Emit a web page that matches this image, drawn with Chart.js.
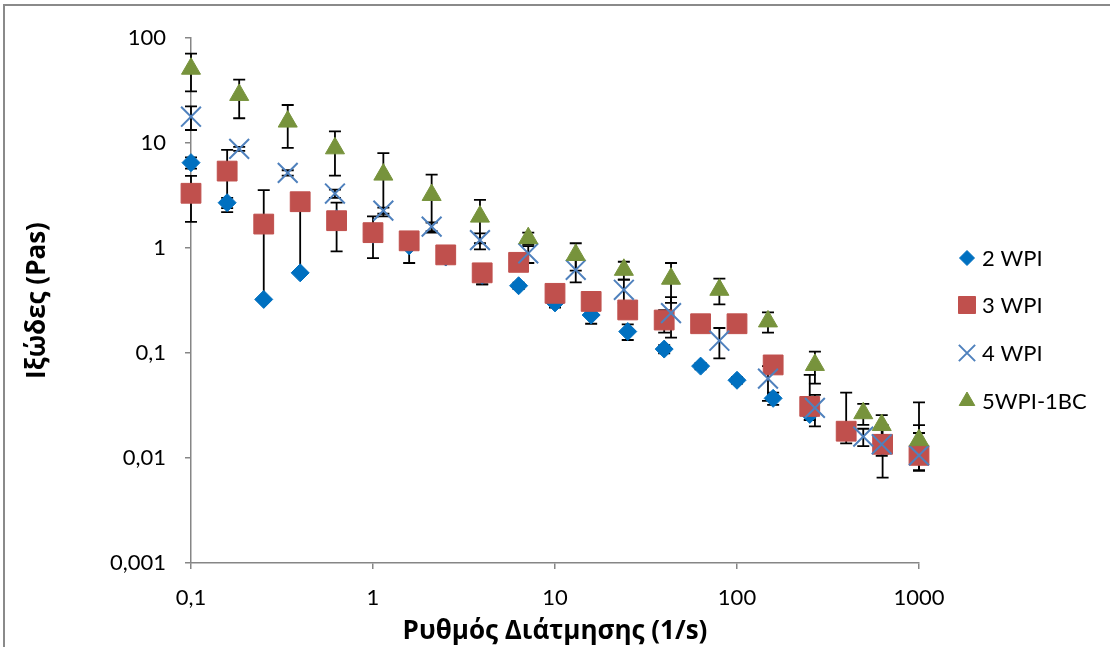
<!DOCTYPE html>
<html>
<head>
<meta charset="utf-8">
<script src="https://cdn.jsdelivr.net/npm/chart.js@4.4.1/dist/chart.umd.min.js"></script>
<style>
  html, body { margin: 0; padding: 0; background: #fff; overflow: hidden; }
  #frame { position: absolute; left: 3px; top: 4px; width: 1300px; height: 900px; border: 2px solid #8a8a8a; }
  #chart { position: absolute; left: 0; top: 0; }
</style>
</head>
<body>
<div id="frame"></div>
<canvas id="chart" width="1110" height="647"></canvas>
<script>
// shear rates (1/s)
const rateA = [0.1, 0.158, 0.251, 0.398, 0.631, 1, 1.58, 2.51, 3.98, 6.31, 10, 15.8, 25.1, 39.8, 63.1, 100, 158, 251, 398, 631, 1000];
const rateB = [0.1, 0.184, 0.34, 0.618, 1.14, 2.1, 3.87, 7.13, 13, 23.9, 43.4, 80, 148, 268, 494, 624, 1000];

// viscosity (Pas) and error bars
const wpi2 = [6.5, 2.7, 0.324, 0.58, 1.9, 1.35, 1.05, 0.82, 0.55, 0.437, 0.30, 0.23, 0.16, 0.109, 0.075, 0.055, 0.037, 0.026, 0.018, 0.013, 0.012];
const wpi2Up = [0.8, 0.3, 1.37, 2.2, 0.2, 0.1, 0.05, 0.05, 0.1, 0.03, 0.03, 0.04, 0.027, 0.01, 0.005, 0.004, 0.005, 0.003, 0.002, 0.002, 0.0086];
const wpi2Down = [0.8, 0.3, 0, 0, 0.2, 0.1, 0.05, 0.05, 0.1, 0.03, 0.03, 0.04, 0.027, 0.01, 0.005, 0.004, 0.005, 0.003, 0.002, 0.002, 0];

const wpi3 = [3.32, 5.4, 1.69, 2.76, 1.82, 1.40, 1.17, 0.86, 0.58, 0.73, 0.37, 0.31, 0.257, 0.206, 0.19, 0.19, 0.077, 0.031, 0.018, 0.0135, 0.0106];
const wpi3Up = [1.55, 3.2, 1.87, 0.3, 0.89, 0.6, 0.2, 0.05, 0.1, 0.05, 0.03, 0.02, 0.02, 0.05, 0.01, 0.01, 0.005, 0.031, 0.024, 0.007, 0.003];
const wpi3Down = [1.55, 3.2, 0, 0.3, 0.89, 0.6, 0.45, 0.05, 0.13, 0.05, 0.03, 0.02, 0.02, 0.05, 0.01, 0.01, 0.005, 0, 0.0042, 0.007, 0.003];

const wpi4 = [17.8, 8.8, 5.2, 3.3, 2.27, 1.6, 1.19, 0.89, 0.62, 0.40, 0.24, 0.131, 0.057, 0.030, 0.016, 0.0135, 0.0106];
const wpi4Up = [4.5, 0.4, 0.3, 0.3, 0.15, 0.15, 0.19, 0.15, 0.15, 0.1, 0.1, 0.042, 0.018, 0.01, 0.003, 0.003, 0.0067];
const wpi4Down = [4.5, 0.4, 0.3, 0.3, 0.15, 0.15, 0.22, 0.17, 0.15, 0.1, 0.1, 0.042, 0.022, 0.01, 0.003, 0.003, 0.003];

const wpi5bc = [51, 28.7, 16, 8.9, 5.0, 3.2, 1.99, 1.24, 0.86, 0.62, 0.51, 0.40, 0.20, 0.077, 0.0267, 0.0206, 0.0148];
const wpi5bcUp = [20, 11.5, 7, 4, 3, 1.8, 0.88, 0.16, 0.25, 0.12, 0.21, 0.11, 0.044, 0.026, 0.006, 0.005, 0.019];
const wpi5bcDown = [20, 11.5, 7, 4, 3, 1.8, 0.88, 0.16, 0.25, 0.12, 0.21, 0.11, 0.044, 0.026, 0.006, 0.005, 0];

const xTicks = [0.1, 1, 10, 100, 1000];
const yTicks = [0.001, 0.01, 0.1, 1, 10, 100];

const toPoints = (xs, ys) => ys.map((y, i) => ({ x: xs[i], y: y }));
const fmt = (v) => String(v).replace('.', ',');

// black vertical error bars, drawn under the markers
const errorBars = {
  id: 'errorBars',
  beforeDatasetsDraw(chart) {
    const ctx = chart.ctx;
    const yScale = chart.scales.y;
    const cap = 6;
    ctx.save();
    ctx.strokeStyle = '#000';
    ctx.lineWidth = 1.8;
    chart.data.datasets.forEach((ds, i) => {
      const meta = chart.getDatasetMeta(i);
      meta.data.forEach((pt, j) => {
        const v = ds.data[j].y;
        const up = ds.errUp[j];
        const down = ds.errDown[j];
        const hasDown = down > 0 && v - down > 0;
        const yTop = up > 0 ? yScale.getPixelForValue(v + up) : pt.y;
        const yBot = hasDown ? yScale.getPixelForValue(v - down) : pt.y;
        ctx.beginPath();
        ctx.moveTo(pt.x, yTop);
        ctx.lineTo(pt.x, yBot);
        if (up > 0) { ctx.moveTo(pt.x - cap, yTop); ctx.lineTo(pt.x + cap, yTop); }
        if (hasDown) { ctx.moveTo(pt.x - cap, yBot); ctx.lineTo(pt.x + cap, yBot); }
        ctx.stroke();
      });
    });
    ctx.restore();
  }
};

// legend on the right, Excel style
const sideLegend = {
  id: 'sideLegend',
  afterDraw(chart) {
    const ctx = chart.ctx;
    const rows = [258, 305, 353, 401];
    ctx.save();
    chart.data.datasets.forEach((ds, i) => {
      const y = rows[i];
      ctx.fillStyle = ds.backgroundColor;
      ctx.strokeStyle = ds.borderColor;
      ctx.lineWidth = ds.borderWidth;
      Chart.helpers.drawPoint(ctx, { pointStyle: ds.pointStyle, radius: ds.legendRadius, borderWidth: ds.borderWidth, rotation: 0 }, 967, y);
      ctx.fillStyle = '#000';
      ctx.font = '22px Lato, "Liberation Sans", sans-serif';
      ctx.textBaseline = 'middle';
      ctx.textAlign = 'left';
      ctx.fillText(ds.label, 982, y + 1);
    });
    ctx.restore();
  }
};

const tickFont = { family: 'Lato, "Liberation Sans", sans-serif', size: 22 };
const titleFont = { family: '"Open Sans", "Noto Sans", sans-serif', size: 26, weight: 'bold' };

new Chart(document.getElementById('chart'), {
  type: 'scatter',
  data: {
    datasets: [
      { label: '2 WPI', data: toPoints(rateA, wpi2), errUp: wpi2Up, errDown: wpi2Down,
        pointStyle: 'rectRot', pointRadius: 9, legendRadius: 7.5, borderWidth: 1, clip: false,
        backgroundColor: '#0070C0', borderColor: '#0070C0', order: 3 },
      { label: '3 WPI', data: toPoints(rateA, wpi3), errUp: wpi3Up, errDown: wpi3Down,
        pointStyle: 'rect', pointRadius: 14, legendRadius: 12, borderWidth: 1, clip: false,
        backgroundColor: '#C0504D', borderColor: '#C0504D', order: 2 },
      { label: '4 WPI', data: toPoints(rateB, wpi4), errUp: wpi4Up, errDown: wpi4Down,
        pointStyle: 'crossRot', pointRadius: 14, legendRadius: 11.5, borderWidth: 2, clip: false,
        backgroundColor: '#4F81BD', borderColor: '#4F81BD', order: 1 },
      { label: '5WPI-1BC', data: toPoints(rateB, wpi5bc), errUp: wpi5bcUp, errDown: wpi5bcDown,
        pointStyle: 'triangle', pointRadius: 11, legendRadius: 9, borderWidth: 1, clip: false,
        backgroundColor: '#77933C', borderColor: '#77933C', order: 0 }
    ]
  },
  options: {
    responsive: false,
    animation: false,
    layout: { padding: { left: 0, right: 191, top: 38, bottom: 0 } },
    plugins: { legend: { display: false }, tooltip: { enabled: false } },
    scales: {
      x: {
        type: 'logarithmic', min: 0.1, max: 1000,
        afterBuildTicks: (s) => { s.ticks = xTicks.map((v) => ({ value: v })); },
        afterFit: (s) => { s.height = 84; },
        ticks: { font: tickFont, color: '#000', padding: 16, maxRotation: 0, callback: (v) => fmt(v) },
        grid: { drawOnChartArea: false, tickLength: 6, color: '#868686', lineWidth: 1.5 },
        border: { color: '#868686', width: 1.5 },
        title: { display: true, text: 'Ρυθμός Διάτμησης (1/s)', font: titleFont, color: '#000', padding: { top: 0, bottom: 0 } }
      },
      y: {
        type: 'logarithmic', min: 0.001, max: 100,
        afterBuildTicks: (s) => { s.ticks = yTicks.map((v) => ({ value: v })); },
        afterFit: (s) => { s.width = 191; },
        ticks: { font: tickFont, color: '#000', padding: 19, callback: (v) => fmt(v) },
        grid: { drawOnChartArea: false, tickLength: 6, color: '#868686', lineWidth: 1.5 },
        border: { color: '#868686', width: 1.5 },
        title: { display: true, text: 'Ιξώδες (Pas)', font: titleFont, color: '#000', padding: { top: 22, bottom: 0 } }
      }
    }
  },
  plugins: [errorBars, sideLegend]
});
</script>
</body>
</html>
